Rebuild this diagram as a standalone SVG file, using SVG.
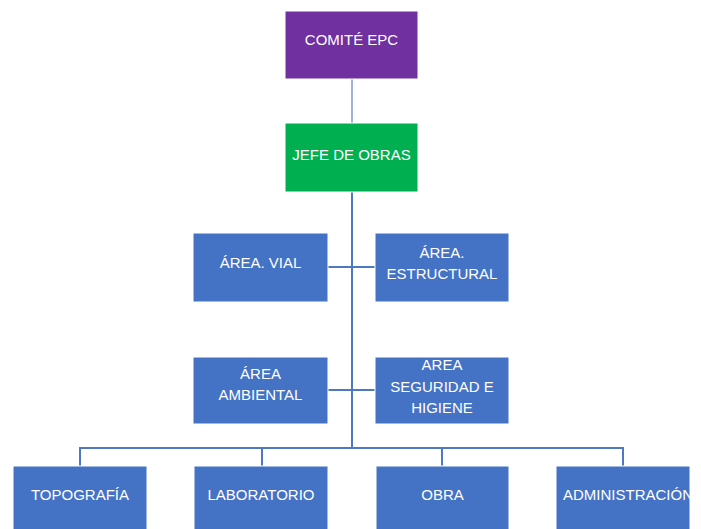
<svg xmlns="http://www.w3.org/2000/svg" width="701" height="529" viewBox="0 0 701 529">
<style>
.box{stroke:#ffffff;stroke-width:1}
.blue{fill:#4472C4}
.t{font-family:"Liberation Sans",Arial,sans-serif;font-size:15px;fill:#ffffff;text-anchor:middle}
.c{fill:none;stroke:#4F78C2;stroke-width:2}
.c1{fill:none;stroke:#9DB3DD;stroke-width:2}
</style>
<rect width="701" height="529" fill="#ffffff"/>
<g id="connectors">
<line class="c1" x1="352" y1="79" x2="352" y2="123"/>
<line class="c" x1="352" y1="192" x2="352" y2="448"/>
<line class="c" x1="328" y1="267" x2="375" y2="267"/>
<line class="c" x1="328" y1="390" x2="375" y2="390"/>
<polyline class="c" points="80,466 80,448 623,448 623,466"/>
<line class="c" x1="262" y1="448" x2="262" y2="466"/>
<line class="c" x1="442" y1="448" x2="442" y2="466"/>
</g>
<g id="comite">
<rect class="box" x="285" y="11" width="133" height="68" fill="#7030A0"/>
<text class="t" x="351.5" y="45">COMITÉ EPC</text>
</g>
<g id="jefe">
<rect class="box" x="285" y="123" width="133" height="69" fill="#00B050"/>
<text class="t" x="351.5" y="160">JEFE DE OBRAS</text>
</g>
<g id="vial">
<rect class="box blue" x="193" y="233" width="135" height="69"/>
<text class="t" x="260.5" y="268">ÁREA. VIAL</text>
</g>
<g id="estructural">
<rect class="box blue" x="375" y="233" width="134" height="69"/>
<text class="t" x="442" y="258">ÁREA.</text>
<text class="t" x="442" y="279">ESTRUCTURAL</text>
</g>
<g id="ambiental">
<rect class="box blue" x="193" y="357" width="135" height="67"/>
<text class="t" x="260.5" y="379">ÁREA</text>
<text class="t" x="260.5" y="400">AMBIENTAL</text>
</g>
<g id="seguridad">
<rect class="box blue" x="375" y="357" width="134" height="67"/>
<text class="t" x="442" y="370">AREA</text>
<text class="t" x="442" y="392">SEGURIDAD E</text>
<text class="t" x="442" y="413">HIGIENE</text>
</g>
<g id="topografia">
<rect class="box blue" x="13" y="466" width="134" height="70"/>
<text class="t" x="80" y="500">TOPOGRAFÍA</text>
</g>
<g id="laboratorio">
<rect class="box blue" x="194" y="466" width="134" height="70"/>
<text class="t" x="261" y="500">LABORATORIO</text>
</g>
<g id="obra">
<rect class="box blue" x="376" y="466" width="133" height="70"/>
<text class="t" x="442.5" y="500">OBRA</text>
</g>
<g id="administracion">
<rect class="box blue" x="556" y="466" width="134" height="70"/>
<text class="t" x="563" y="500" style="text-anchor:start">ADMINISTRACIÓN</text>
</g>
</svg>
